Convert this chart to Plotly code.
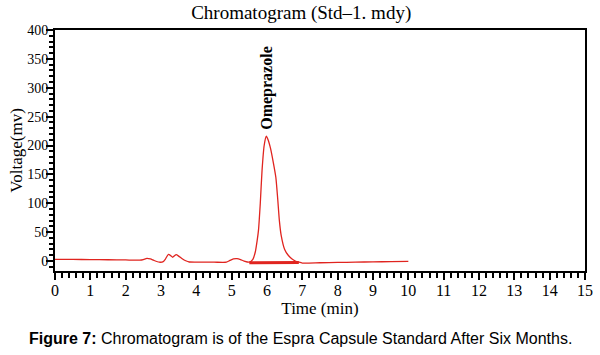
import plotly.graph_objects as go

# Chromatogram trace (time in min, voltage in mV)
time_min = [0.0, 0.5, 1.0, 1.5, 2.0, 2.4, 2.5, 2.6, 2.7, 2.8, 2.95, 3.05, 3.12, 3.21, 3.28, 3.33, 3.38, 3.43, 3.5, 3.6, 3.7, 3.8,
            4.0, 4.5, 4.85, 4.95, 5.05, 5.15, 5.25, 5.35, 5.5, 5.6, 5.67, 5.72, 5.76, 5.81, 5.86, 5.92, 5.98, 6.03,
            6.1, 6.18, 6.25, 6.3, 6.35, 6.4, 6.5, 6.6, 6.7, 6.8, 6.9, 7.0, 7.5, 8.0, 8.5, 9.0, 9.5, 10.0]
voltage_mv = [3.0, 2.8, 2.5, 2.2, 1.8, 1.5, 2.5, 4.5, 3.5, 1.0, -2.0, -1.5, 3.0, 11.5, 9.0, 6.5, 9.0, 11.0, 8.5, 4.0, 0.5, -1.7,
              -2.0, -2.0, -2.0, 1.0, 3.5, 4.0, 2.5, 0.0, -2.0, 3.0, 16.0, 35.0, 54.0, 100.0, 157.0, 200.0, 216.0, 210.0,
              195.0, 170.0, 145.0, 110.0, 70.0, 45.0, 20.0, 10.0, 4.0, 0.0, -2.0, -3.5, -3.0, -2.5, -2.0, -1.5, -1.0, -0.5]

# Integration baseline under the main peak
baseline_t = [5.5, 6.9]
baseline_mv = [-3.0, -2.5]

peak_label = "Omeprazole"
peak_time = 6.0
peak_label_mv = 300

x_ticks = list(range(0, 16))
y_ticks = list(range(0, 401, 50))

red = "#e0241f"
serif = "Liberation Serif, Times New Roman, serif"
sans = "Liberation Sans, Arial, sans-serif"

fig = go.Figure()
fig.add_trace(go.Scatter(x=time_min, y=voltage_mv, mode="lines",
                         line=dict(color=red, width=1.3, shape="spline", smoothing=0.6),
                         hoverinfo="skip", showlegend=False))
fig.add_trace(go.Scatter(x=baseline_t, y=baseline_mv, mode="lines",
                         line=dict(color=red, width=3), hoverinfo="skip", showlegend=False))

fig.add_annotation(x=peak_time, y=peak_label_mv, text="<b>" + peak_label + "</b>", textangle=-90,
                   showarrow=False, font=dict(family=serif, size=16, color="black"))

fig.add_annotation(xref="paper", yref="paper", x=0.4623, y=-0.282, xanchor="center", yanchor="middle",
                   text="<b>Figure 7:</b> Chromatogram is of the Espra Capsule Standard After Six Months.",
                   showarrow=False, font=dict(family=sans, size=16, color="black"))

fig.update_layout(
    width=600, height=355,
    margin=dict(l=55, r=15, t=30, b=84),
    plot_bgcolor="white", paper_bgcolor="white",
    title=dict(text="Chromatogram (Std\u20131. mdy)", x=0.502, xanchor="center", y=0.966, yanchor="middle",
               font=dict(family=serif, size=19, color="black")),
    xaxis=dict(range=[0, 15], tickvals=x_ticks, ticks="outside", ticklen=7, tickwidth=2, tickcolor="black",
               showline=True, linecolor="black", linewidth=2, mirror=True, showgrid=False, zeroline=False,
               automargin=False, ticklabelstandoff=-3,
               minor=dict(dtick=0.2, ticks="outside", ticklen=5, tickwidth=2, tickcolor="black"),
               tickfont=dict(family=serif, size=16, color="black"),
               title=dict(text="Time (min)", font=dict(family=serif, size=17, color="black"), standoff=0)),
    yaxis=dict(range=[-17.3, 400], tickvals=y_ticks, ticks="outside", ticklen=7, tickwidth=2, tickcolor="black",
               showline=True, linecolor="black", linewidth=2, mirror=True, showgrid=False, zeroline=False,
               automargin=False, ticklabelstandoff=-5,
               minor=dict(dtick=10, ticks="outside", ticklen=4, tickwidth=2, tickcolor="black"),
               tickfont=dict(family=serif, size=14, color="black"),
               title=dict(text="Voltage(mv)", font=dict(family=serif, size=17, color="black"), standoff=0)),
)

fig.write_html("out.html", config={"displayModeBar": False},
               post_script="document.body.style.margin='0';")
